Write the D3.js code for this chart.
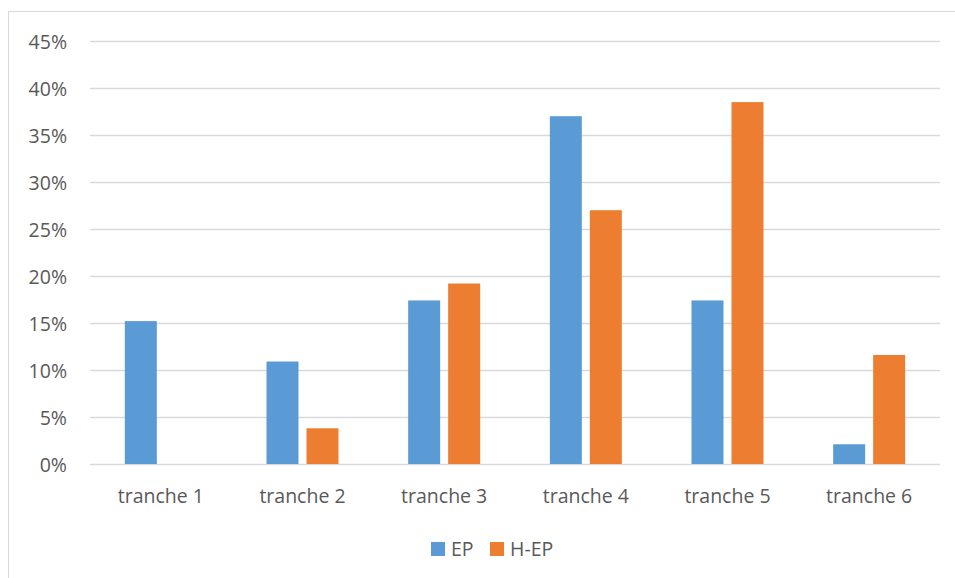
<!DOCTYPE html>
<html><head><meta charset="utf-8">
<script src="https://cdn.jsdelivr.net/npm/d3@7"></script>
<style>body{margin:0;background:#fff;}svg{display:block;}</style>
</head><body>
<svg id="c" width="955" height="578"></svg>
<script>
const categories = ["tranche 1","tranche 2","tranche 3","tranche 4","tranche 5","tranche 6"];
const seriesNames = ["EP","H-EP"];
const epValues = [0.152, 0.109, 0.174, 0.370, 0.174, 0.021];
const hepValues = [0.0, 0.038, 0.192, 0.270, 0.385, 0.116];
const yTicks = [0,0.05,0.10,0.15,0.20,0.25,0.30,0.35,0.40,0.45];
const colors = ["#5b9bd5","#ed7d31"];

(function(){
const svg = d3.select("#c");
const font = "'Open Sans', 'Noto Sans', sans-serif";
const fs = "19.5px";
const textColor = "#595959";

// chart border
svg.append("rect").attr("x",8.5).attr("y",11.5).attr("width",960).attr("height",580)
  .attr("fill","none").attr("stroke","#d9d9d9").attr("stroke-width",1);

const pLeft=90, pRight=940, pTop=41, pBottom=464;
const x = d3.scaleBand().domain(categories).range([pLeft,pRight]);
const y = d3.scaleLinear().domain([0,0.45]).range([pBottom,pTop]);

// gridlines
svg.append("g").selectAll("line").data(yTicks).join("line")
  .attr("x1",pLeft).attr("x2",pRight)
  .attr("y1",d=>Math.round(y(d))+0.5).attr("y2",d=>Math.round(y(d))+0.5)
  .attr("stroke","#d9d9d9").attr("stroke-width",1.3);

// y axis labels
const yAxis = d3.axisLeft(y).tickValues(yTicks).tickFormat(d3.format(".0%")).tickSize(0).tickPadding(0);
const yg = svg.append("g").attr("transform",`translate(67,1)`).call(yAxis);
yg.select(".domain").remove();
yg.selectAll("text").attr("font-family",font).attr("font-size",fs).attr("fill",textColor).attr("text-anchor","end");

// x axis labels
const xAxis = d3.axisBottom(x).tickSize(0).tickPadding(0);
const xg = svg.append("g").attr("transform",`translate(0,489)`).call(xAxis);
xg.select(".domain").remove();
xg.selectAll("text").attr("font-family",font).attr("font-size",fs).attr("fill",textColor);

// bars
const barW = 32, gap = 8;
const data = categories.map((c,i)=>({c, vals:[epValues[i], hepValues[i]]}));
const groups = svg.append("g").selectAll("g").data(data).join("g")
  .attr("transform",d=>`translate(${x(d.c)+x.bandwidth()/2 - (barW*2+gap)/2},0)`);
groups.selectAll("rect").data(d=>d.vals.map((v,j)=>({v,j}))).join("rect")
  .attr("x",d=>d.j*(barW+gap)).attr("width",barW)
  .attr("y",d=>y(d.v)).attr("height",d=>pBottom-y(d.v))
  .attr("fill",d=>colors[d.j]);

// legend
const lg = svg.append("g");
const legendItems = [{name:seriesNames[0],x:431},{name:seriesNames[1],x:490}];
legendItems.forEach((it,i)=>{
  lg.append("rect").attr("x",it.x).attr("y",542).attr("width",14).attr("height",14).attr("fill",colors[i]);
  lg.append("text").attr("x",it.x+20).attr("y",556).attr("font-family",font).attr("font-size",fs)
    .attr("fill",textColor).text(it.name);
});
})();
</script>
</body></html>
